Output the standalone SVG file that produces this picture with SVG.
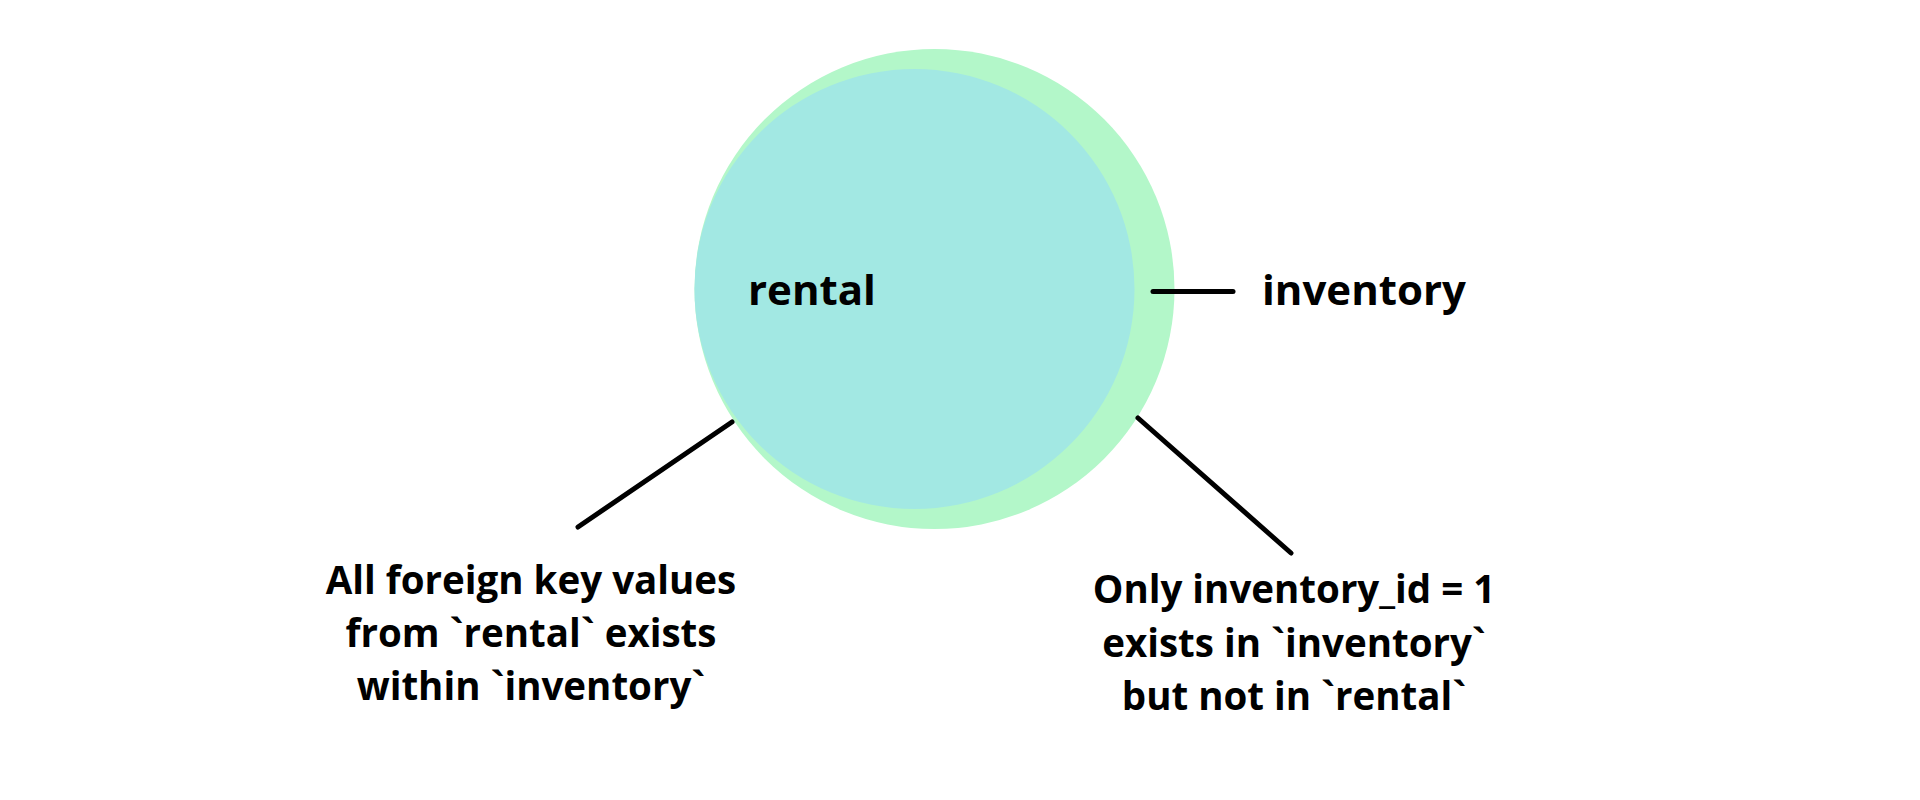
<svg xmlns="http://www.w3.org/2000/svg" width="1920" height="800" viewBox="0 0 1920 800">
<style>
.t{font-family:"Open Sans","Liberation Sans",sans-serif;font-weight:700;fill:#000;}
.lbl{font-size:42px;}
.note{font-size:38.5px;text-anchor:middle;}
.c{stroke:#000;stroke-width:5;stroke-linecap:round;fill:none;}
</style>
<rect width="1920" height="800" fill="#fff"/>
<g id="inventory">
<circle cx="934.5" cy="289" r="240" fill="#b3f7c9"/>
<text class="t lbl" x="1262" y="305">inventory</text>
</g>
<g id="rental">
<circle cx="914.5" cy="289" r="220" fill="#a2e8e3"/>
<text class="t lbl" x="748" y="305">rental</text>
</g>
<g id="connectors">
<line class="c" x1="732" y1="422" x2="578" y2="527"/>
<line class="c" x1="1138" y1="418" x2="1291" y2="553"/>
<line class="c" x1="1153" y1="291.5" x2="1233" y2="291.5"/>
</g>
<g id="note-left">
<text class="t note" x="531" y="594">All foreign key values</text>
<text class="t note" x="531" y="647">from `rental` exists</text>
<text class="t note" x="531" y="700">within `inventory`</text>
</g>
<g id="note-right">
<text class="t note" x="1294" y="603">Only inventory_id = 1</text>
<text class="t note" x="1294" y="657">exists in `inventory`</text>
<text class="t note" x="1294" y="710">but not in `rental`</text>
</g>
</svg>
